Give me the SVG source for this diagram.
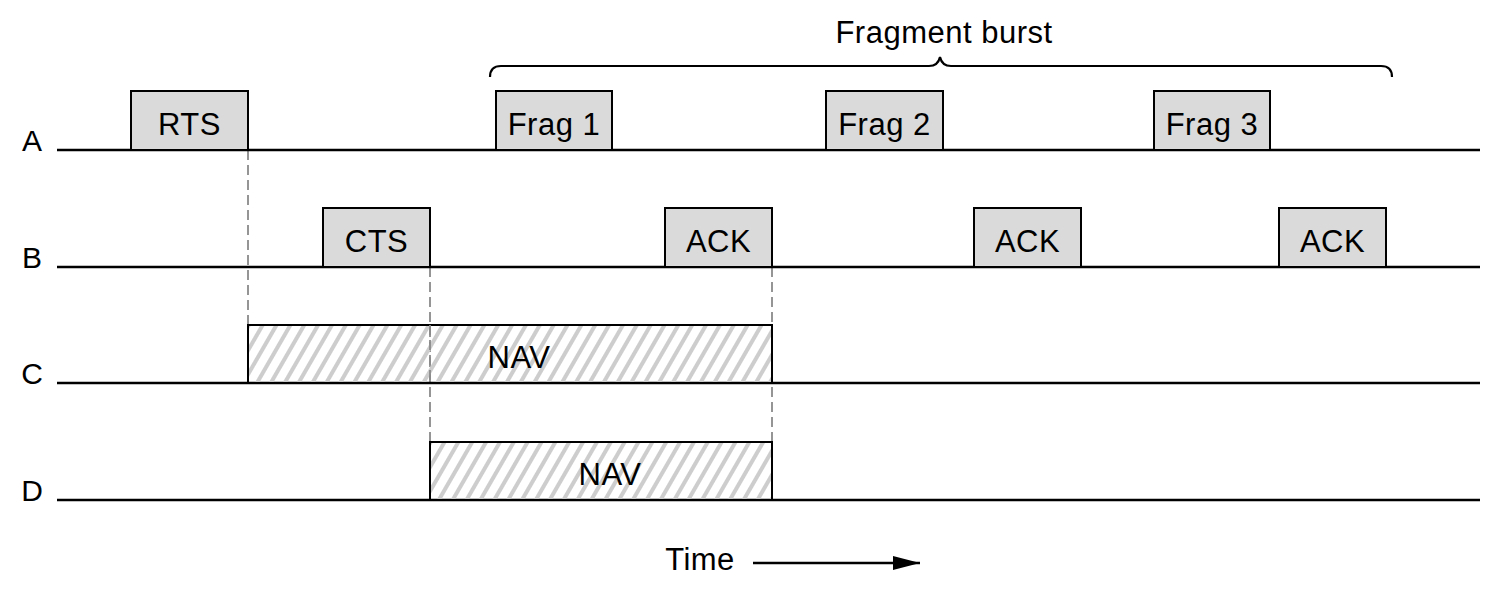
<svg xmlns="http://www.w3.org/2000/svg" width="1500" height="591" viewBox="0 0 1500 591">
<defs>
<pattern id="hatch" patternUnits="userSpaceOnUse" width="12" height="12" patternTransform="rotate(30)">
<line x1="6" y1="-6" x2="6" y2="18" stroke="#cdcdcd" stroke-width="4"/>
</pattern>
<marker id="arrow" markerUnits="userSpaceOnUse" markerWidth="27" markerHeight="14" refX="27" refY="7" orient="auto">
<path d="M0,0 L27,7 L0,14 Z" fill="#000"/>
</marker>
</defs>
<style>
text{font-family:"Liberation Sans",Arial,sans-serif;fill:#000;}
.lbl{font-size:31px;text-anchor:middle;letter-spacing:0.5px;}
.row{font-size:30px;text-anchor:middle;}
.base{stroke:#000;stroke-width:2.5;fill:none;}
.box{fill:#dadada;stroke:#000;stroke-width:2;}
.nav{fill:url(#hatch);stroke:#000;stroke-width:2;}
.dash{stroke:#8a8a8a;stroke-width:1.8;stroke-dasharray:10,5;fill:none;}
</style>
<rect width="1500" height="591" fill="#fff"/>

<g id="connectors">
<line class="dash" x1="248" y1="150" x2="248" y2="325"/>
<line class="dash" x1="430" y1="267" x2="430" y2="442"/>
<line class="dash" x1="772" y1="267" x2="772" y2="442"/>
<line x1="753" y1="563" x2="920" y2="563" stroke="#000" stroke-width="2.5" marker-end="url(#arrow)"/>
</g>

<g id="rows">
<g id="rowA"><text class="row" x="32" y="151">A</text><line class="base" x1="57" y1="150" x2="1480" y2="150"/></g>
<g id="rowB"><text class="row" x="32" y="268">B</text><line class="base" x1="57" y1="267" x2="1480" y2="267"/></g>
<g id="rowC"><text class="row" x="32" y="384">C</text><line class="base" x1="57" y1="383" x2="1480" y2="383"/></g>
<g id="rowD"><text class="row" x="32" y="501">D</text><line class="base" x1="57" y1="500" x2="1480" y2="500"/></g>
</g>

<g id="rts"><rect class="box" x="131" y="91" width="117" height="59"/><text class="lbl" x="189.5" y="135">RTS</text></g>
<g id="frag1"><rect class="box" x="496" y="91" width="116" height="59"/><text class="lbl" x="554" y="135">Frag 1</text></g>
<g id="frag2"><rect class="box" x="826" y="91" width="117" height="59"/><text class="lbl" x="884.5" y="135">Frag 2</text></g>
<g id="frag3"><rect class="box" x="1154" y="91" width="116" height="59"/><text class="lbl" x="1212" y="135">Frag 3</text></g>

<g id="cts"><rect class="box" x="323" y="208" width="107" height="59"/><text class="lbl" x="376.5" y="252">CTS</text></g>
<g id="ack1"><rect class="box" x="665" y="208" width="107" height="59"/><text class="lbl" x="718.5" y="252">ACK</text></g>
<g id="ack2"><rect class="box" x="974" y="208" width="107" height="59"/><text class="lbl" x="1027.5" y="252">ACK</text></g>
<g id="ack3"><rect class="box" x="1279" y="208" width="107" height="59"/><text class="lbl" x="1332.5" y="252">ACK</text></g>

<g id="navC"><rect class="nav" x="248" y="325" width="524" height="58"/><line class="dash" x1="430" y1="325" x2="430" y2="383"/><text class="lbl" x="519" y="368">NAV</text></g>
<g id="navD"><rect class="nav" x="430" y="442" width="342" height="58"/><text class="lbl" x="610" y="485">NAV</text></g>

<g id="brace">
<path d="M490,77 Q490,66 501,66 L929,66 Q938,66 940,57 Q942,66 951,66 L1381,66 Q1392,66 1392,77" fill="none" stroke="#000" stroke-width="2.2"/>
<text class="lbl" x="944" y="43">Fragment burst</text>
</g>

<g id="time"><text class="lbl" x="700" y="570">Time</text></g>
</svg>
